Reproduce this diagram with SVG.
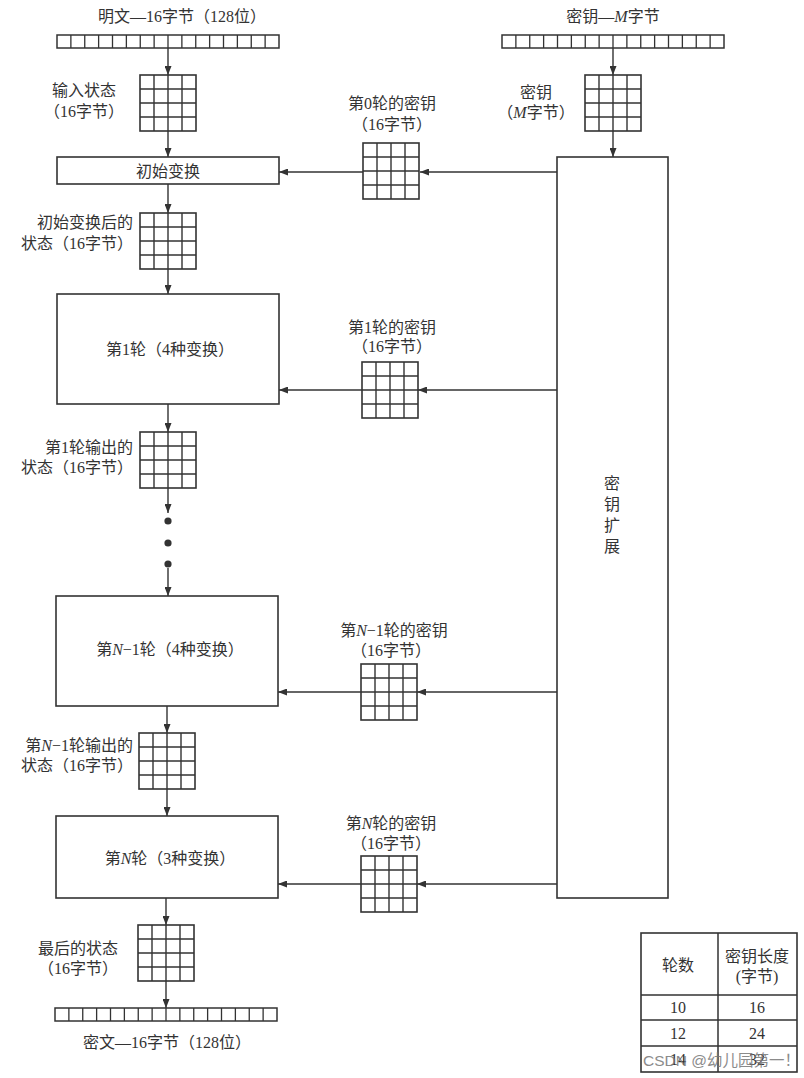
<svg xmlns="http://www.w3.org/2000/svg" xmlns:xlink="http://www.w3.org/1999/xlink" width="804" height="1078" viewBox="0 0 804 1078">
<style>
.t{font-family:"Liberation Serif","Noto Sans CJK SC",serif;font-size:16px;fill:#333}
.m{text-anchor:middle}
.e{text-anchor:end}
.box{fill:#fff;stroke:#333;stroke-width:1.6}
.ln{stroke:#333;stroke-width:1.5;fill:none}
.cn{stroke:#333;stroke-width:1.4;fill:none;marker-end:url(#ah)}
.dot{fill:#333}
.wm{font-family:"Liberation Sans","Noto Sans CJK SC",sans-serif;font-size:15.5px;fill:#777;opacity:.85}
</style>
<defs>
<marker id="ah" markerWidth="9" markerHeight="7" refX="9" refY="3.5" orient="auto" markerUnits="userSpaceOnUse">
<path d="M0,0 L9,3.5 L0,7 z" fill="#333"/>
</marker>
<g id="grid">
<rect x="0" y="0" width="56" height="56" fill="#fff" stroke="#333" stroke-width="1.6"/>
<path d="M14,0V56M28,0V56M42,0V56M0,14H56M0,28H56M0,42H56" stroke="#333" stroke-width="1.4" fill="none"/>
</g>
<g id="bar">
<rect x="0" y="0" width="222" height="13" fill="#fff" stroke="#333" stroke-width="1.5"/>
<path d="M13.875,0v13M27.75,0v13M41.625,0v13M55.5,0v13M69.375,0v13M83.25,0v13M97.125,0v13M111,0v13M124.875,0v13M138.75,0v13M152.625,0v13M166.5,0v13M180.375,0v13M194.25,0v13M208.125,0v13" stroke="#333" stroke-width="1.3" fill="none"/>
</g>
</defs>
<rect width="804" height="1078" fill="#fff"/>

<g id="connectors">
<line class="cn" x1="168" y1="48" x2="168" y2="75"/>
<line class="cn" x1="168" y1="131" x2="168" y2="157"/>
<line class="cn" x1="168" y1="184" x2="168" y2="213"/>
<line class="cn" x1="168" y1="269" x2="168" y2="294"/>
<line class="cn" x1="168" y1="404" x2="168" y2="432"/>
<line class="cn" x1="168" y1="488" x2="168" y2="513"/>
<line class="cn" x1="168" y1="568" x2="168" y2="596"/>
<line class="cn" x1="167" y1="706" x2="167" y2="733"/>
<line class="cn" x1="167" y1="789" x2="167" y2="816"/>
<line class="cn" x1="166" y1="898" x2="166" y2="925"/>
<line class="cn" x1="166" y1="981" x2="166" y2="1008"/>
<line class="cn" x1="613" y1="48" x2="613" y2="75"/>
<line class="cn" x1="613" y1="131" x2="613" y2="157"/>
<line class="cn" x1="557" y1="172" x2="420" y2="172"/>
<line class="cn" x1="363" y1="172" x2="279" y2="172"/>
<line class="cn" x1="557" y1="390" x2="418" y2="390"/>
<line class="cn" x1="362" y1="390" x2="279" y2="390"/>
<line class="cn" x1="557" y1="692" x2="417" y2="692"/>
<line class="cn" x1="361" y1="692" x2="278" y2="692"/>
<line class="cn" x1="557" y1="884" x2="417" y2="884"/>
<line class="cn" x1="361" y1="884" x2="278" y2="884"/>
<circle class="dot" cx="168" cy="521" r="3.6"/>
<circle class="dot" cx="168" cy="543" r="3.6"/>
<circle class="dot" cx="168" cy="564" r="3.6"/>
</g>

<g id="plaintext">
<text class="t m" x="182" y="22">明文—16字节（128位）</text>
<use xlink:href="#bar" x="57" y="35"/>
</g>
<g id="input-state">
<use xlink:href="#grid" x="140" y="75"/>
<text class="t m" x="84" y="96">输入状态</text>
<text class="t m" x="84" y="117">（16字节）</text>
</g>
<g id="initial-transform">
<rect class="box" x="57" y="157" width="222" height="27"/>
<text class="t m" x="168" y="177">初始变换</text>
</g>
<g id="state-after-initial">
<use xlink:href="#grid" x="140" y="213"/>
<text class="t e" x="133" y="228">初始变换后的</text>
<text class="t e" x="133" y="249">状态（16字节）</text>
</g>
<g id="round1">
<rect class="box" x="57" y="294" width="222" height="110"/>
<text class="t m" x="170" y="355">第1轮（4种变换）</text>
</g>
<g id="round1-output">
<use xlink:href="#grid" x="140" y="432"/>
<text class="t e" x="133" y="453">第1轮输出的</text>
<text class="t e" x="133" y="473">状态（16字节）</text>
</g>
<g id="roundN-1">
<rect class="box" x="56" y="596" width="222" height="110"/>
<text class="t m" x="170" y="655">第<tspan font-style="italic">N</tspan>−1轮（4种变换）</text>
</g>
<g id="roundN-1-output">
<use xlink:href="#grid" x="139" y="733"/>
<text class="t e" x="133" y="751">第<tspan font-style="italic">N</tspan>−1轮输出的</text>
<text class="t e" x="133" y="771">状态（16字节）</text>
</g>
<g id="roundN">
<rect class="box" x="56" y="816" width="222" height="82"/>
<text class="t m" x="170" y="864">第<tspan font-style="italic">N</tspan>轮（3种变换）</text>
</g>
<g id="final-state">
<use xlink:href="#grid" x="138" y="925"/>
<text class="t m" x="78" y="954">最后的状态</text>
<text class="t m" x="78" y="974">（16字节）</text>
</g>
<g id="ciphertext">
<use xlink:href="#bar" x="55" y="1008"/>
<text class="t m" x="167" y="1048">密文—16字节（128位）</text>
</g>

<g id="key">
<text class="t m" x="613" y="22">密钥—<tspan font-style="italic">M</tspan>字节</text>
<use xlink:href="#bar" x="502" y="35"/>
</g>
<g id="key-matrix">
<use xlink:href="#grid" x="585" y="75"/>
<text class="t m" x="536" y="98">密钥</text>
<text class="t m" x="536" y="118">（<tspan font-style="italic">M</tspan>字节）</text>
</g>
<g id="key-expansion">
<rect class="box" x="557" y="157" width="111" height="741"/>
<text class="t m" x="612" y="489">密</text>
<text class="t m" x="612" y="510">钥</text>
<text class="t m" x="612" y="531">扩</text>
<text class="t m" x="612" y="552">展</text>
</g>
<g id="key0">
<use xlink:href="#grid" x="363" y="143"/>
<text class="t m" x="392" y="109">第0轮的密钥</text>
<text class="t m" x="392" y="130">（16字节）</text>
</g>
<g id="key1">
<use xlink:href="#grid" x="362" y="362"/>
<text class="t m" x="392" y="333">第1轮的密钥</text>
<text class="t m" x="392" y="352">（16字节）</text>
</g>
<g id="keyN-1">
<use xlink:href="#grid" x="361" y="664"/>
<text class="t m" x="394" y="636">第<tspan font-style="italic">N</tspan>−1轮的密钥</text>
<text class="t m" x="391" y="656">（16字节）</text>
</g>
<g id="keyN">
<use xlink:href="#grid" x="361" y="856"/>
<text class="t m" x="391" y="829">第<tspan font-style="italic">N</tspan>轮的密钥</text>
<text class="t m" x="391" y="849">（16字节）</text>
</g>

<g id="table">
<rect class="box" x="641" y="933" width="156" height="139"/>
<path class="ln" d="M718,933V1072M641,995H797M641,1020H797M641,1046H797"/>
<text class="t m" x="678" y="971">轮数</text>
<text class="t m" x="757" y="962">密钥长度</text>
<text class="t m" x="757" y="982">(字节)</text>
<text class="t m" x="678" y="1013">10</text>
<text class="t m" x="757" y="1013">16</text>
<text class="t m" x="678" y="1039">12</text>
<text class="t m" x="757" y="1039">24</text>
<text class="t m" x="678" y="1065">14</text>
<text class="t m" x="757" y="1065">32</text>
<text class="wm" x="643" y="1066">CSDN @幼儿园第一！</text>
</g>
</svg>
